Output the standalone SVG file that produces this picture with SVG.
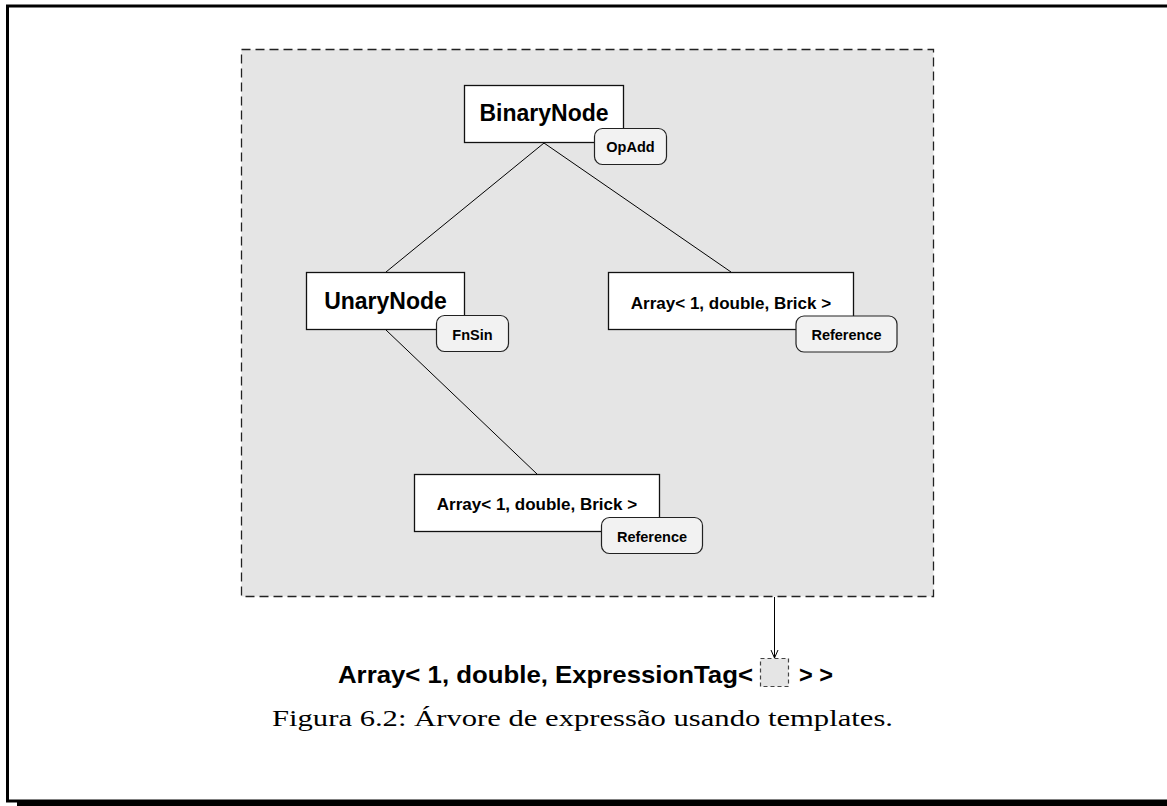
<svg xmlns="http://www.w3.org/2000/svg" width="1167" height="806" viewBox="0 0 1167 806">
  <defs>
    <style>
      .frame { fill: none; stroke: #000; stroke-width: 3; }
      .panel { fill: #e5e5e5; stroke: #222; stroke-width: 1.3; stroke-dasharray: 9 5; }
      .box { fill: #fff; stroke: #111; stroke-width: 1.3; }
      .tag { fill: #f2f2f2; stroke: #222; stroke-width: 1.2; }
      .edge { stroke: #000; stroke-width: 1; fill: none; }
      .big { font-family: "Liberation Sans", Arial, sans-serif; font-weight: bold; font-size: 23px; text-anchor: middle; fill: #000; }
      .mid { font-family: "Liberation Sans", Arial, sans-serif; font-weight: bold; font-size: 17px; text-anchor: middle; fill: #000; }
      .small { font-family: "Liberation Sans", Arial, sans-serif; font-weight: bold; font-size: 14.5px; text-anchor: middle; fill: #000; }
      .type { font-family: "Liberation Sans", Arial, sans-serif; font-weight: bold; font-size: 24px; fill: #000; }
      .caption { font-family: "Liberation Serif", "Times New Roman", serif; font-size: 23px; fill: #000; }
      .slot { fill: #e5e5e5; stroke: #444; stroke-width: 1.2; stroke-dasharray: 4 3; }
    </style>
    <marker id="vee" markerWidth="10" markerHeight="10" refX="8" refY="4" orient="auto" markerUnits="userSpaceOnUse">
      <polyline points="0,0.5 8,4 0,7.5" fill="none" stroke="#000" stroke-width="1"/>
    </marker>
  </defs>

  <!-- page frame with drop shadow -->
  <rect class="frame" x="7.5" y="6" width="1170" height="795"/>
  <rect x="17" y="800" width="1160" height="10" fill="#000"/>

  <!-- shaded expression region -->
  <rect id="expression-region" class="panel" x="241.5" y="49.5" width="692" height="547"/>

  <!-- tree edges and the arrow to the result type -->
  <g id="connectors">
    <line class="edge" x1="544" y1="143" x2="386" y2="272"/>
    <line class="edge" x1="544" y1="143" x2="731" y2="272"/>
    <line class="edge" x1="386" y1="330" x2="537" y2="474"/>
    <line class="edge" x1="774.5" y1="597" x2="774.5" y2="658" marker-end="url(#vee)"/>
  </g>

  <g id="binary-node">
    <rect class="box" x="464.5" y="85.5" width="159" height="57"/>
    <text class="big" x="544" y="121">BinaryNode</text>
    <rect class="tag" x="594.5" y="128.5" width="72" height="36" rx="8"/>
    <text class="small" x="630.5" y="152">OpAdd</text>
  </g>

  <g id="unary-node">
    <rect class="box" x="306.5" y="272.5" width="158" height="57"/>
    <text class="big" x="385.5" y="308.5">UnaryNode</text>
    <rect class="tag" x="436.5" y="315.5" width="72" height="36" rx="8"/>
    <text class="small" x="472.5" y="340">FnSin</text>
  </g>

  <g id="array-right">
    <rect class="box" x="608.5" y="272.5" width="245" height="57"/>
    <text class="mid" x="731" y="308.5">Array&lt; 1, double, Brick &gt;</text>
    <rect class="tag" x="796" y="316" width="101" height="36" rx="8"/>
    <text class="small" x="846.5" y="340">Reference</text>
  </g>

  <g id="array-bottom">
    <rect class="box" x="414.5" y="474.5" width="245" height="57"/>
    <text class="mid" x="537" y="510">Array&lt; 1, double, Brick &gt;</text>
    <rect class="tag" x="601.5" y="517.5" width="101" height="36" rx="8"/>
    <text class="small" x="652" y="542">Reference</text>
  </g>

  <!-- resulting expression type -->
  <g id="result-type">
    <text class="type" x="338" y="683" textLength="415" lengthAdjust="spacingAndGlyphs">Array&lt; 1, double, ExpressionTag&lt;</text>
    <rect class="slot" x="760.5" y="658.5" width="28" height="28"/>
    <text class="type" x="799" y="683" textLength="34" lengthAdjust="spacingAndGlyphs">&gt; &gt;</text>
  </g>

  <text class="caption" x="272" y="726" textLength="621" lengthAdjust="spacingAndGlyphs">Figura 6.2: Árvore de expressão usando templates.</text>
</svg>
